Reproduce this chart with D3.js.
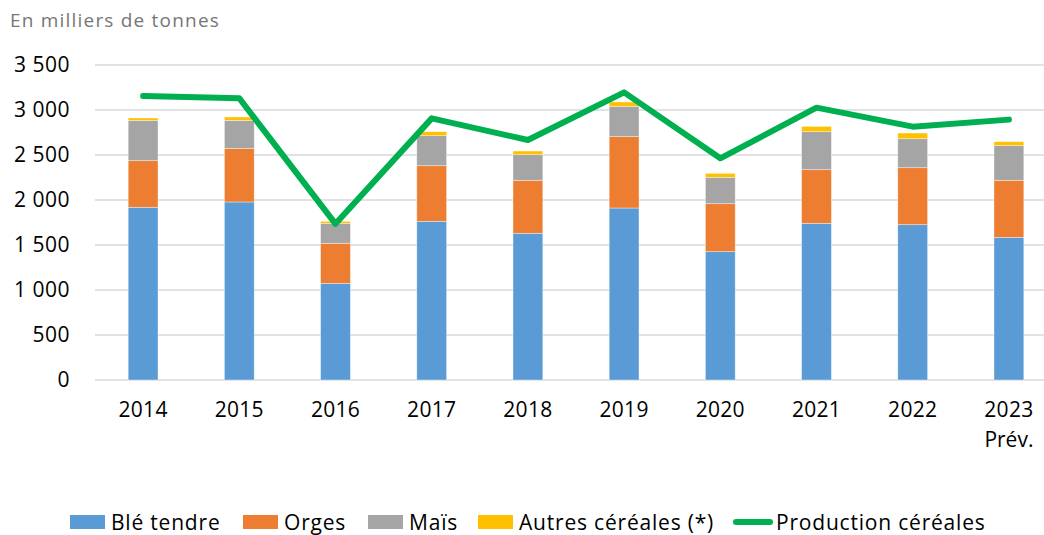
<!DOCTYPE html>
<html>
<head>
<meta charset="utf-8">
<script src="https://cdn.jsdelivr.net/npm/d3@7"></script>
<style>
  body { margin: 0; background: #fff; }
  text { font-family: "Open Sans", sans-serif; }
</style>
</head>
<body>
<svg id="chart" width="1044" height="535"></svg>
<script>
// values, thousand tonnes
var years = ["2014", "2015", "2016", "2017", "2018", "2019", "2020", "2021", "2022", "2023"];
var bleTendre = [1919, 1978, 1074, 1763, 1630, 1911, 1426, 1741, 1726, 1585];
var orges     = [518, 596, 445, 618, 589, 793, 533, 596, 633, 634];
var mais      = [448, 311, 222, 334, 285, 337, 293, 422, 322, 385];
var autres    = [26, 37, 22, 44, 40, 48, 44, 59, 63, 44];
var production = [3155, 3130, 1735, 2907, 2667, 3196, 2463, 3026, 2815, 2893];
var yTicks = [0, 500, 1000, 1500, 2000, 2500, 3000, 3500];

var seriesNames = ["Blé tendre", "Orges", "Maïs", "Autres céréales (*)"];
var seriesKeys = ["ble", "orges", "mais", "autres"];
var colors = ["#5B9BD5", "#ED7D31", "#A5A5A5", "#FFC000"];
var lineColor = "#00B050";

var rows = years.map(function(y, i) {
  return { year: y, ble: bleTendre[i], orges: orges[i], mais: mais[i], autres: autres[i], prod: production[i] };
});

var svg = d3.select("#chart");
var plotLeft = 95, plotRight = 1057, plotTop = 65, plotBottom = 380;

var x = d3.scaleBand().domain(years).range([plotLeft, plotRight]).paddingInner(0.69).paddingOuter(0.345);
var y = d3.scaleLinear().domain([0, 3500]).range([plotBottom, plotTop]);

// title
svg.append("text")
  .attr("x", 10).attr("y", 27)
  .attr("fill", "#767676")
  .style("font-size", "19px")
  .style("letter-spacing", "1.2px")
  .text("En milliers de tonnes");

// gridlines
svg.append("g").selectAll("line")
  .data(yTicks)
  .join("line")
  .attr("x1", plotLeft).attr("x2", 1044)
  .attr("y1", function(d) { return y(d); })
  .attr("y2", function(d) { return y(d); })
  .attr("stroke", "#D9D9D9")
  .attr("stroke-width", 1.5);

// y axis labels
var fmt = function(d) { return d3.format(",")(d).replace(/,/g, " "); };
var yAxis = d3.axisLeft(y).tickValues(yTicks).tickSize(0).tickPadding(0).tickFormat(fmt);
var ya = svg.append("g").attr("transform", "translate(70,0)").call(yAxis);
ya.select(".domain").remove();
ya.selectAll("text")
  .style("font-size", "21px").style("letter-spacing", "0.5px")
  .attr("fill", "#000").style("font-family", "'Open Sans', sans-serif");

// stacked bars
var stack = d3.stack().keys(seriesKeys)(rows);
svg.append("g").selectAll("g")
  .data(stack)
  .join("g")
  .attr("fill", function(d, i) { return colors[i]; })
  .selectAll("rect")
  .data(function(d) { return d; })
  .join("rect")
  .attr("x", function(d) { return x(d.data.year); })
  .attr("width", x.bandwidth())
  .attr("y", function(d) { return y(d[1]); })
  .attr("height", function(d) { return y(d[0]) - y(d[1]); })
  .attr("stroke", "rgba(255,255,255,0.5)")
  .attr("stroke-width", 0.75);

// production line
var line = d3.line()
  .x(function(d) { return x(d.year) + x.bandwidth() / 2; })
  .y(function(d) { return y(d.prod); });
svg.append("path")
  .datum(rows)
  .attr("d", line)
  .attr("fill", "none")
  .attr("stroke", lineColor)
  .attr("stroke-width", 6)
  .attr("stroke-linecap", "round")
  .attr("stroke-linejoin", "round");

// x axis labels
var xAxis = d3.axisBottom(x).tickSize(0).tickPadding(0);
var xa = svg.append("g").attr("transform", "translate(0,402)").call(xAxis);
xa.select(".domain").remove();
xa.selectAll("text")
  .style("font-size", "21px").style("letter-spacing", "0.3px")
  .attr("fill", "#000").style("font-family", "'Open Sans', sans-serif");
xa.selectAll(".tick").filter(function(d) { return d === "2023"; })
  .append("text")
  .attr("y", 30).attr("dy", "0.71em")
  .attr("fill", "#000")
  .attr("text-anchor", "middle")
  .style("font-size", "21px")
  .text("Prév.");

// legend
var legendX = [70, 243, 368, 478];
var leg = svg.append("g");
seriesNames.forEach(function(name, i) {
  leg.append("rect")
    .attr("x", legendX[i]).attr("y", 515)
    .attr("width", 35).attr("height", 14)
    .attr("fill", colors[i]);
  leg.append("text")
    .attr("x", legendX[i] + 41).attr("y", 530)
    .style("font-size", "21px")
    .style("letter-spacing", "0.8px")
    .text(name);
});
leg.append("line")
  .attr("x1", 736).attr("x2", 770)
  .attr("y1", 522).attr("y2", 522)
  .attr("stroke", lineColor)
  .attr("stroke-width", 6)
  .attr("stroke-linecap", "round");
leg.append("text")
  .attr("x", 776).attr("y", 530)
  .style("font-size", "21px")
  .style("letter-spacing", "0.8px")
  .text("Production céréales");
</script>
</body>
</html>
